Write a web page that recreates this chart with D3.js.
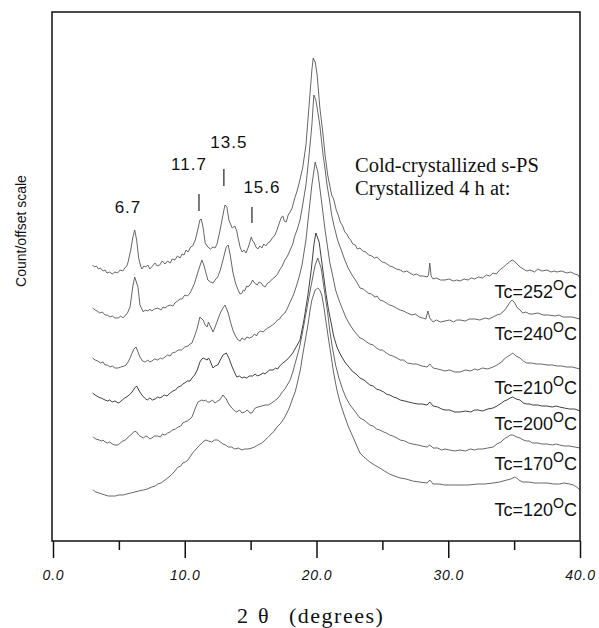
<!DOCTYPE html>
<html lang="en">
<head>
<meta charset="utf-8">
<title>Cold-crystallized s-PS</title>
<script src="https://cdn.jsdelivr.net/npm/d3@7/dist/d3.min.js"></script>
<style>
  body { margin: 0; background: #fff; }
  svg text { font-family: "Liberation Sans", Arial, sans-serif; fill: #111; }
  svg .serif { font-family: "Liberation Serif", "Times New Roman", serif; }
</style>
</head>
<body>
<div id="chart"></div>
<script>
// diffractograms, [2theta, count + offset]
let tc252 = [[3.0,276],[3.15,274],[3.3,275],[3.45,272],[3.6,273],[3.8,270],[3.95,271],[4.1,268],[4.3,269],[4.5,267],[4.7,269],[4.9,268],[5.1,271],[5.3,270],[5.45,273],[5.6,275],[5.7,279],[5.9,291],[6.05,303],[6.2,311],[6.35,301],[6.5,283],[6.65,275],[6.75,272],[6.9,275],[7.05,274],[7.2,276],[7.35,272],[7.55,275],[7.75,278],[7.9,275],[8.1,276],[8.3,280],[8.5,277],[8.7,280],[8.9,278],[9.05,282],[9.25,281],[9.45,285],[9.65,283],[9.8,287],[9.95,286],[10.1,291],[10.25,289],[10.45,294],[10.6,295],[10.8,301],[10.95,309],[11.15,321],[11.25,322],[11.4,313],[11.55,298],[11.75,294],[11.95,292],[12.15,294],[12.3,293],[12.45,297],[12.65,309],[12.9,326],[13.05,336],[13.2,334],[13.35,321],[13.6,313],[13.8,315],[13.95,310],[14.05,303],[14.2,294],[14.35,289],[14.5,291],[14.65,288],[14.8,293],[14.9,297],[15.05,304],[15.15,300],[15.25,299],[15.4,294],[15.55,292],[15.7,295],[15.85,293],[16.0,297],[16.15,295],[16.3,298],[16.45,299],[16.65,303],[16.85,306],[17.0,311],[17.2,319],[17.35,324],[17.45,325],[17.55,320],[17.7,319],[17.85,326],[18.0,329],[18.15,333],[18.35,343],[18.5,349],[18.65,356],[18.95,373],[19.2,396],[19.35,421],[19.5,446],[19.65,471],[19.75,483],[19.9,479],[20.05,466],[20.25,434],[20.5,406],[20.65,386],[20.85,366],[21.15,346],[21.3,342],[21.5,331],[21.65,326],[21.8,319],[21.95,316],[22.15,309],[22.3,307],[22.45,303],[22.6,301],[22.75,297],[22.95,296],[23.1,292],[23.3,293],[23.5,290],[23.75,289],[23.95,286],[24.2,285],[24.4,283],[24.6,284],[24.8,281],[25.0,279],[25.25,278],[25.55,275],[25.8,274],[26.05,272],[26.35,271],[26.6,269],[26.85,270],[27.1,268],[27.35,266],[27.6,267],[27.85,265],[28.1,265],[28.4,264],[28.5,266],[28.6,278],[28.7,265],[28.85,262],[29.1,263],[29.4,261],[29.75,261],[30.05,262],[30.4,260],[30.65,261],[30.9,260],[31.2,262],[31.5,261],[31.75,263],[32.0,262],[32.3,264],[32.6,263],[32.9,266],[33.15,265],[33.4,268],[33.65,267],[33.9,271],[34.2,274],[34.45,277],[34.65,279],[34.85,281],[35.0,280],[35.15,278],[35.3,276],[35.45,274],[35.7,272],[35.95,270],[36.2,271],[36.55,269],[36.8,272],[37.1,270],[37.5,271],[37.8,269],[38.05,270],[38.25,269],[38.6,270],[39.0,268],[39.3,269],[39.6,267],[39.85,266],[40.0,263]]

let tc240 = [[3.0,233],[3.2,231],[3.35,230],[3.55,228],[3.75,229],[3.95,226],[4.15,226],[4.3,224],[4.5,225],[4.7,223],[4.95,223],[5.15,225],[5.3,223],[5.45,225],[5.65,228],[5.85,234],[6.05,254],[6.2,264],[6.45,254],[6.6,236],[6.85,229],[7.0,231],[7.2,230],[7.35,232],[7.5,230],[7.7,232],[7.95,233],[8.2,231],[8.35,234],[8.5,233],[8.7,235],[8.9,236],[9.1,235],[9.25,238],[9.45,240],[9.65,242],[9.8,242],[10.0,246],[10.2,245],[10.4,248],[10.55,252],[10.75,258],[11.0,269],[11.3,281],[11.45,276],[11.55,271],[11.75,261],[11.95,259],[12.15,258],[12.3,261],[12.5,264],[12.7,271],[12.9,281],[13.15,294],[13.3,296],[13.45,286],[13.65,269],[13.85,258],[14.05,251],[14.2,247],[14.35,248],[14.45,251],[14.55,250],[14.7,255],[14.8,254],[15.0,257],[15.15,261],[15.3,258],[15.5,256],[15.65,259],[15.8,258],[15.95,255],[16.1,254],[16.3,258],[16.45,259],[16.65,262],[16.85,264],[17.05,267],[17.2,271],[17.4,275],[17.6,281],[17.8,285],[18.0,291],[18.2,297],[18.35,305],[18.55,312],[18.75,321],[18.95,336],[19.2,356],[19.4,381],[19.65,416],[19.8,446],[19.95,441],[20.1,429],[20.25,416],[20.5,386],[20.65,372],[20.8,356],[21.0,340],[21.15,326],[21.35,314],[21.6,301],[21.85,292],[22.15,281],[22.4,273],[22.7,266],[22.95,261],[23.1,258],[23.3,253],[23.55,252],[23.9,248],[24.15,247],[24.45,244],[24.6,245],[24.8,241],[25.05,240],[25.3,238],[25.55,236],[25.8,235],[26.05,233],[26.35,231],[26.6,230],[26.9,228],[27.25,226],[27.5,227],[27.8,224],[28.05,223],[28.3,222],[28.45,230],[28.6,223],[28.85,219],[29.1,221],[29.4,219],[29.75,220],[30.1,221],[30.4,219],[30.65,221],[30.9,221],[31.3,220],[31.6,222],[32.0,222],[32.4,221],[32.8,223],[33.1,222],[33.4,224],[33.7,226],[33.95,227],[34.15,229],[34.35,232],[34.5,235],[34.7,239],[34.85,241],[35.05,238],[35.25,233],[35.45,231],[35.65,228],[35.9,229],[36.15,227],[36.4,227],[36.8,228],[37.2,226],[37.6,226],[38.1,225],[38.4,226],[38.7,224],[39.0,224],[39.4,224],[39.7,223],[40.0,222]]

let tc210 = [[3.0,183],[3.2,181],[3.4,180],[3.6,178],[3.8,179],[3.95,176],[4.15,176],[4.3,174],[4.5,175],[4.7,173],[4.95,173],[5.15,174],[5.4,175],[5.55,176],[5.7,179],[5.85,183],[6.0,188],[6.15,192],[6.3,194],[6.45,189],[6.6,184],[6.8,180],[7.0,179],[7.2,181],[7.35,179],[7.5,180],[7.7,182],[7.95,181],[8.15,183],[8.3,182],[8.5,184],[8.7,186],[8.9,185],[9.05,188],[9.3,189],[9.5,191],[9.75,191],[10.0,194],[10.25,195],[10.4,197],[10.55,198],[10.75,205],[10.95,213],[11.15,224],[11.3,222],[11.4,221],[11.55,216],[11.7,214],[11.8,219],[11.9,216],[12.05,212],[12.15,209],[12.3,214],[12.5,221],[12.7,228],[12.9,233],[13.05,236],[13.15,233],[13.3,228],[13.45,220],[13.65,211],[13.85,205],[14.05,201],[14.2,200],[14.35,203],[14.55,201],[14.7,204],[14.9,203],[15.1,204],[15.3,207],[15.45,205],[15.55,208],[15.75,210],[15.95,209],[16.1,211],[16.3,213],[16.45,214],[16.65,216],[16.85,218],[17.05,221],[17.2,222],[17.4,226],[17.6,228],[17.8,233],[18.0,239],[18.25,246],[18.5,256],[18.7,265],[18.9,276],[19.2,301],[19.4,326],[19.65,356],[19.9,379],[20.1,369],[20.35,343],[20.65,311],[20.85,293],[21.0,279],[21.2,267],[21.45,251],[21.7,241],[22.0,231],[22.25,223],[22.55,216],[22.8,211],[23.05,207],[23.3,203],[23.5,202],[23.8,199],[24.05,197],[24.3,196],[24.55,193],[24.8,191],[25.0,191],[25.3,188],[25.55,186],[25.8,185],[26.1,183],[26.35,181],[26.6,181],[26.9,178],[27.3,177],[27.6,177],[28.0,175],[28.4,174],[28.6,177],[28.85,173],[29.2,172],[29.5,171],[29.75,170],[30.1,171],[30.5,169],[30.9,169],[31.3,171],[31.7,170],[32.0,172],[32.25,171],[32.6,173],[33.0,172],[33.4,174],[33.7,176],[34.05,179],[34.25,182],[34.45,184],[34.7,186],[34.9,188],[35.05,186],[35.15,185],[35.3,184],[35.45,183],[35.7,180],[35.95,178],[36.3,178],[36.7,177],[37.1,177],[37.5,176],[37.9,176],[38.25,175],[38.6,175],[39.0,174],[39.4,174],[39.7,173],[40.0,172]]

let tc200 = [[3.0,148],[3.2,146],[3.45,144],[3.65,143],[3.8,142],[3.95,141],[4.15,140],[4.3,141],[4.5,139],[4.7,140],[4.95,138],[5.1,139],[5.25,141],[5.45,143],[5.7,145],[6.0,149],[6.2,153],[6.35,155],[6.55,150],[6.75,146],[6.95,143],[7.15,141],[7.35,143],[7.55,141],[7.75,142],[7.95,144],[8.1,143],[8.25,144],[8.45,146],[8.65,145],[8.9,148],[9.1,150],[9.3,151],[9.5,154],[9.7,155],[9.85,157],[10.0,158],[10.2,160],[10.4,160],[10.55,163],[10.75,166],[10.95,171],[11.15,179],[11.3,182],[11.4,183],[11.55,182],[11.7,181],[11.8,183],[11.9,181],[12.05,176],[12.15,173],[12.3,175],[12.5,176],[12.7,181],[12.9,186],[13.15,188],[13.35,183],[13.6,174],[13.8,168],[13.95,164],[14.15,165],[14.35,163],[14.5,164],[14.7,163],[14.9,165],[15.15,165],[15.35,167],[15.5,165],[15.7,166],[15.95,168],[16.1,167],[16.25,169],[16.45,171],[16.7,171],[16.9,173],[17.05,172],[17.2,175],[17.45,178],[17.75,181],[17.95,184],[18.2,188],[18.45,194],[18.75,201],[19.05,221],[19.35,246],[19.6,271],[19.8,296],[19.95,308],[20.2,299],[20.4,279],[20.7,249],[20.9,232],[21.1,219],[21.3,205],[21.55,194],[21.8,187],[22.15,179],[22.4,175],[22.7,170],[23.0,167],[23.3,163],[23.6,161],[24.05,156],[24.3,155],[24.55,152],[24.8,151],[25.1,149],[25.3,147],[25.55,146],[25.85,144],[26.1,143],[26.35,141],[26.7,140],[27.0,139],[27.3,138],[27.7,137],[28.0,137],[28.4,136],[28.6,139],[28.85,135],[29.2,134],[29.5,132],[29.75,131],[30.1,131],[30.5,129],[30.9,129],[31.3,130],[31.7,129],[32.0,131],[32.25,131],[32.6,130],[33.0,132],[33.4,133],[33.7,135],[34.05,138],[34.25,140],[34.45,141],[34.7,143],[34.9,144],[35.15,142],[35.45,141],[35.7,138],[35.95,137],[36.2,137],[36.4,136],[36.8,136],[37.1,135],[37.5,135],[37.9,134],[38.2,135],[38.45,134],[38.8,133],[39.2,132],[39.6,132],[40.0,130]]

let tc170 = [[3.05,104],[3.25,102],[3.5,101],[3.7,100],[3.8,101],[3.95,99],[4.15,98],[4.3,99],[4.5,97],[4.7,96],[4.95,96],[5.1,98],[5.3,100],[5.5,101],[5.7,104],[5.9,106],[6.05,108],[6.2,110],[6.35,109],[6.5,106],[6.6,105],[6.85,103],[7.05,105],[7.2,104],[7.35,102],[7.5,103],[7.7,105],[7.95,105],[8.15,104],[8.3,107],[8.5,106],[8.7,108],[8.9,109],[9.05,111],[9.3,112],[9.5,114],[9.7,115],[9.85,118],[10.0,119],[10.2,120],[10.4,122],[10.55,124],[10.75,131],[11.0,139],[11.15,140],[11.3,141],[11.45,140],[11.55,141],[11.75,139],[11.9,139],[12.1,141],[12.3,138],[12.5,140],[12.65,141],[12.9,146],[13.15,142],[13.3,138],[13.45,135],[13.65,132],[13.8,130],[13.95,129],[14.15,131],[14.35,128],[14.55,129],[14.75,131],[14.95,128],[15.1,128],[15.25,131],[15.35,133],[15.55,134],[15.85,135],[16.1,136],[16.35,136],[16.6,138],[16.8,140],[17.0,142],[17.2,145],[17.35,148],[17.65,153],[18.0,161],[18.2,169],[18.45,181],[18.7,193],[18.9,206],[19.25,231],[19.6,256],[19.9,276],[20.1,283],[20.35,273],[20.65,246],[20.85,228],[21.0,211],[21.2,194],[21.45,176],[21.7,163],[22.0,151],[22.25,143],[22.55,136],[22.9,130],[23.3,123],[23.6,121],[24.05,116],[24.3,115],[24.55,112],[24.8,111],[25.1,109],[25.3,108],[25.55,106],[25.8,105],[26.1,103],[26.35,101],[26.7,100],[27.0,98],[27.3,97],[27.7,96],[28.0,95],[28.4,94],[28.6,96],[28.85,93],[29.2,93],[29.5,91],[29.75,92],[30.1,91],[30.5,90],[30.9,91],[31.3,90],[31.7,92],[32.0,91],[32.25,92],[32.6,92],[33.0,93],[33.4,94],[33.7,97],[34.0,99],[34.15,101],[34.35,103],[34.5,104],[34.7,106],[34.9,106],[35.05,105],[35.2,104],[35.45,103],[35.7,101],[35.95,100],[36.15,100],[36.4,98],[36.8,98],[37.1,97],[37.5,97],[37.9,96],[38.2,97],[38.45,96],[38.8,95],[39.2,95],[39.6,94],[40.0,93]]

let tc120 = [[3.05,51],[3.25,49],[3.5,48],[3.7,47],[3.95,46],[4.2,45],[4.5,45],[4.75,45],[4.95,46],[5.3,46],[5.6,47],[5.9,48],[6.2,49],[6.5,50],[6.85,51],[7.15,52],[7.5,54],[7.75,55],[7.95,57],[8.2,58],[8.5,61],[8.8,64],[9.05,67],[9.25,70],[9.5,74],[9.7,75],[9.85,78],[10.05,79],[10.25,81],[10.45,85],[10.6,88],[10.8,91],[11.0,94],[11.15,96],[11.3,98],[11.45,100],[11.6,101],[11.8,100],[12.05,99],[12.25,101],[12.5,101],[12.7,99],[12.9,97],[13.1,96],[13.3,94],[13.55,94],[13.8,92],[14.05,93],[14.35,91],[14.55,92],[14.8,92],[15.1,93],[15.3,94],[15.55,96],[15.85,98],[16.1,101],[16.35,104],[16.55,107],[16.8,110],[17.0,114],[17.3,118],[17.6,124],[17.9,132],[18.15,141],[18.4,150],[18.6,161],[18.8,173],[18.95,186],[19.15,201],[19.35,216],[19.5,230],[19.65,241],[19.9,251],[20.1,253],[20.25,251],[20.4,246],[20.55,235],[20.7,221],[20.9,203],[21.1,186],[21.3,168],[21.55,151],[21.8,138],[22.1,126],[22.4,115],[22.7,106],[23.0,97],[23.3,88],[23.6,84],[24.05,79],[24.4,76],[24.8,73],[25.15,70],[25.55,67],[25.9,65],[26.35,63],[26.8,62],[27.3,60],[27.8,59],[28.4,58],[28.6,61],[28.85,57],[29.3,57],[29.75,56],[30.3,56],[30.9,56],[31.5,56],[32.25,57],[32.8,57],[33.4,58],[33.9,59],[34.45,61],[34.75,62],[35.05,64],[35.2,63],[35.35,61],[35.65,59],[36.1,59],[36.55,58],[37.0,58],[37.5,58],[38.0,57],[38.45,57],[38.8,58],[39.2,57],[39.5,56],[39.75,54],[40.0,51]]

let series = [tc252, tc240, tc210, tc200, tc170, tc120]
let tcLabels = ["252", "240", "210", "200", "170", "120"]
let peakLabels = ["6.7", "11.7", "13.5", "15.6"]
let majorTicks = [0, 10, 20, 30, 40]
let minorTicks = [5, 15, 25, 35]

let width = 599
let height = 628
let xScale = d3.scaleLinear().domain([0, 40]).range([53, 580])
let yScale = d3.scaleLinear().domain([0, 529]).range([541, 12])

let svg = d3.select("#chart").append("svg")
  .attr("width", width).attr("height", height)

let line = d3.line()
  .x((d) => xScale(d[0]))
  .y((d) => yScale(d[1]))

svg.append("g")
  .selectAll("path")
  .data(series)
  .enter()
  .append("path")
    .attr("d", line)
    .attr("fill", "none")
    .attr("stroke", (d, i) => i == 3 ? "#2a2a2a" : "#555")
    .attr("stroke-width", 0.9)
    .attr("stroke-linejoin", "round")

// frame
svg.append("rect")
  .attr("x", xScale(0) - 1).attr("y", yScale(529))
  .attr("width", xScale(40) - xScale(0) + 1).attr("height", yScale(0) - yScale(529))
  .attr("fill", "none").attr("stroke", "#111").attr("stroke-width", 1.5)

let xAxis = d3.axisBottom(xScale)
  .tickValues(majorTicks)
  .tickSize(17)
  .tickPadding(12)
  .tickFormat(d3.format(".1f"))

let gx = svg.append("g")
  .attr("transform", "translate(0," + yScale(0) + ")")
  .call(xAxis)
gx.select(".domain").remove()
gx.selectAll("line").attr("stroke", "#111").attr("stroke-width", 1.5)
gx.selectAll("text")
  .attr("font-size", 14).attr("font-style", "italic").attr("font-family", null)
  .attr("letter-spacing", 0.8)
  .attr("fill", "#111")

let gm = svg.append("g")
  .attr("transform", "translate(0," + yScale(0) + ")")
  .call(d3.axisBottom(xScale).tickValues(minorTicks).tickSize(9).tickFormat(""))
gm.select(".domain").remove()
gm.selectAll("line").attr("stroke", "#111").attr("stroke-width", 1.5)

// Tc labels on the right
let tcBase = [298, 340, 394, 430, 470, 516]
tcLabels.forEach((t, i) => {
  let txt = svg.append("text")
    .attr("x", 577).attr("y", tcBase[i])
    .attr("text-anchor", "end")
    .attr("font-size", 18)
  txt.append("tspan").text("Tc=" + t)
  txt.append("tspan").attr("dy", -8).attr("font-size", 14).text("O")
  txt.append("tspan").attr("dy", 8).text("C")
})

// peak annotations
let peakPos = [
  {x: 5.69, y: 328},
  {x: 10.32, y: 371, mark: 11.08, m0: 330, m1: 347},
  {x: 13.35, y: 393, mark: 12.97, m0: 355, m1: 372},
  {x: 15.86, y: 348, mark: 15.1, m0: 318, m1: 334}
]
peakLabels.forEach((p, i) => {
  let a = peakPos[i]
  svg.append("text")
    .attr("x", xScale(a.x)).attr("y", yScale(a.y))
    .attr("text-anchor", "middle")
    .attr("font-size", 17).attr("letter-spacing", 1)
    .text(p)
  if (a.mark) {
    svg.append("line")
      .attr("x1", xScale(a.mark)).attr("x2", xScale(a.mark))
      .attr("y1", yScale(a.m0)).attr("y2", yScale(a.m1))
      .attr("stroke", "#222").attr("stroke-width", 1.2)
  }
})

svg.append("text").attr("class", "serif")
  .attr("x", 355).attr("y", 172).attr("font-size", 20.5)
  .text("Cold-crystallized s-PS")
svg.append("text").attr("class", "serif")
  .attr("x", 355).attr("y", 195).attr("font-size", 20.5)
  .text("Crystallized 4 h at:")

// axis titles
svg.append("text").attr("class", "serif")
  .attr("x", 237).attr("y", 623).attr("font-size", 22).text("2")
svg.append("text").attr("class", "serif")
  .attr("x", 258).attr("y", 623).attr("font-size", 22).text("θ")
svg.append("text").attr("class", "serif")
  .attr("x", 289).attr("y", 623).attr("font-size", 22).attr("letter-spacing", 1.5)
  .text("(degrees)")

svg.append("text")
  .attr("transform", "translate(26,231) rotate(-90)")
  .attr("text-anchor", "middle")
  .attr("font-size", 14)
  .text("Count/offset scale")
</script>
</body>
</html>
